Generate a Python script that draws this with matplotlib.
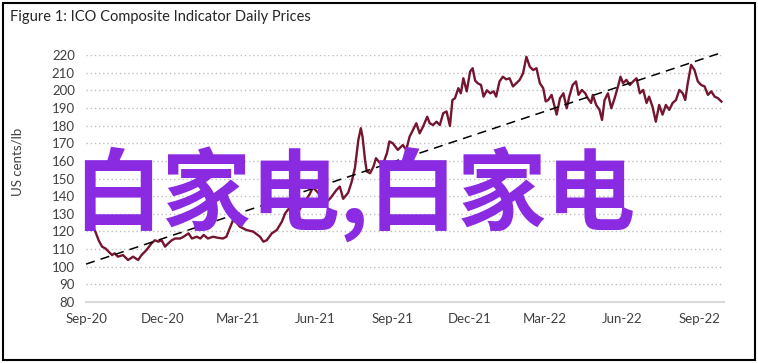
import matplotlib
matplotlib.use("Agg")
import matplotlib.pyplot as plt
import numpy as np
from matplotlib.patches import Rectangle

LINE = "#74162f"
PURPLE = "#8a2be2"
GREY = "#404040"
plt.rcParams.update({"font.family": ["Lato", "DejaVu Sans"], "font.size": 9.5})

# ICO composite indicator (days since 1 Sep 2020, US cents/lb)
start = np.datetime64("2020-09-01")
days = [1, 8, 11, 15, 19, 23, 27, 31, 34, 38, 44, 50, 56, 62, 66, 72, 78, 82, 86, 90,
        94, 98, 102, 106, 112, 116, 122, 126, 132, 136, 140, 145, 151, 157, 163, 167, 171, 175, 179, 183,
        191, 199, 207, 211, 215, 221, 227, 233, 237, 243, 252, 259, 266, 270, 276, 282, 287, 291, 298, 302,
        306, 312, 316, 320, 324, 327, 329, 332, 334, 338, 342, 345, 350, 353, 358, 361, 365, 371, 377, 381,
        385, 389, 393, 397, 401, 406, 409, 413, 417, 421, 425, 429, 433, 436, 439, 443, 446, 449, 453, 457,
        460, 463, 466, 470, 473, 477, 481, 485, 488, 492, 496, 500, 504, 508, 512, 516, 520, 524, 528, 532,
        536, 540, 544, 547, 550, 554, 558, 560, 564, 568, 572, 575, 579, 583, 586, 590, 594, 597, 601, 603,
        607, 611, 614, 617, 621, 625, 629, 633, 636, 639, 643, 647, 651, 655, 659, 663, 667, 670, 674, 678,
        682, 686, 690, 694, 698, 702, 706, 710, 713, 716, 720, 724, 728, 732, 736, 740, 744, 748, 752, 756]
price = [124.0, 122.7, 120.0, 115.0, 111.4, 110.4, 108.5, 106.6, 107.6, 105.7, 106.6, 103.8, 105.7, 103.8, 106.6, 109.5, 113.3, 115.0, 114.2, 115.0,
         111.4, 113.3, 115.0, 116.0, 116.0, 117.0, 118.9, 116.0, 117.0, 116.0, 118.0, 116.0, 117.0, 116.4, 116.0, 117.0, 121.8, 126.5, 125.0, 122.7,
         120.8, 119.9, 117.0, 114.2, 115.0, 118.9, 120.8, 125.5, 130.3, 134.0, 131.0, 136.0, 141.0, 145.0, 142.0, 138.0, 137.0, 139.0, 143.5, 145.4,
         138.5, 142.0, 148.0, 156.0, 171.8, 178.5, 173.7, 160.5, 154.0, 153.0, 156.7, 161.5, 158.6, 157.7, 164.3, 171.0, 170.0, 166.2, 169.0, 166.2,
         173.7, 177.5, 181.3, 175.6, 179.4, 185.0, 181.3, 180.3, 182.2, 180.3, 187.0, 188.0, 179.8, 194.5, 195.5, 201.2, 198.3, 206.8, 199.4, 210.6,
         212.5, 205.5, 204.0, 203.0, 196.4, 200.0, 198.3, 199.4, 196.4, 205.0, 207.7, 206.2, 206.8, 202.2, 204.0, 205.9, 209.6, 219.0, 213.4, 211.5,
         212.5, 204.0, 201.2, 193.7, 194.5, 197.4, 189.8, 186.2, 195.5, 198.3, 189.8, 196.4, 203.0, 205.0, 197.4, 200.2, 198.3, 195.5, 192.8, 197.4,
         191.7, 188.9, 183.2, 194.5, 198.3, 189.8, 195.5, 202.2, 207.7, 204.0, 205.9, 203.0, 205.0, 206.8, 198.3, 200.2, 192.8, 196.4, 190.8, 182.2,
         191.7, 186.2, 191.7, 188.9, 192.8, 194.5, 200.2, 198.3, 194.5, 204.0, 214.4, 211.5, 205.0, 203.0, 202.2, 197.4, 199.4, 196.4, 195.5, 193.6]
trend_days = [0, 759]
trend_vals = [101.5, 221.8]
xlim_days = [0, 759]
yticks = list(range(80, 230, 10))
xtick_dates = ["2020-09-01", "2020-12-01", "2021-03-01", "2021-06-01", "2021-09-01",
               "2021-12-01", "2022-03-01", "2022-06-01", "2022-09-01"]
xtick_labels = ["Sep-20", "Dec-20", "Mar-21", "Jun-21", "Sep-21", "Dec-21", "Mar-22", "Jun-22", "Sep-22"]

dates = start + np.array(days, dtype="timedelta64[D]")
tdates = start + np.array(trend_days, dtype="timedelta64[D]")

fig = plt.figure(figsize=(7.58, 3.63), dpi=100)
ax = fig.add_axes([0.1135, 0.168, 0.8415, 0.6805])

ax.plot(dates, price, color=LINE, lw=1.7, zorder=3)
ax.plot(tdates, trend_vals, color="black", lw=1.1, ls=(0, (6, 4)), zorder=4, clip_on=False)

ax.set_xlim(start + np.array(xlim_days, dtype="timedelta64[D]"))
ax.set_ylim(80, 220)
ax.set_yticks(yticks)
ax.set_xticks(np.array(xtick_dates, dtype="datetime64[D]"))
ax.set_xticklabels(xtick_labels)
ax.tick_params(length=0, colors=GREY, labelsize=9.5)
ax.tick_params(axis="y", pad=8)
ax.tick_params(axis="x", pad=8)
for v in yticks[1:]:
    ax.axhline(v, color="#bfbfbf", lw=1.0, ls=(0, (1, 2)), zorder=1)
for s in ("top", "right", "left"):
    ax.spines[s].set_visible(False)
ax.spines["bottom"].set_color("#d9d9d9")
ax.spines["bottom"].set_linewidth(1.5)

fig.text(17 / 758, 1 - 162 / 363, "US cents/lb", rotation=90, ha="center", va="center",
         color=GREY, fontsize=9.5)
fig.text(10 / 758, 1 - 17 / 363, "Figure 1: ICO Composite Indicator Daily Prices",
         ha="left", va="center", fontsize=10.5, color="#262626")
fig.text(73 / 758, 1 - 195 / 363, "白家电,白家电", ha="left", va="center", fontsize=64,
         color=PURPLE, fontweight="bold", family=["Noto Sans CJK SC", "DejaVu Sans"], zorder=10)

fig.patches.append(Rectangle((3 / 758, 3 / 363), 752 / 758, 357 / 363, transform=fig.transFigure,
                             fill=False, edgecolor="black", lw=1.5))

fig.savefig("out.png", dpi=100, facecolor="white")
